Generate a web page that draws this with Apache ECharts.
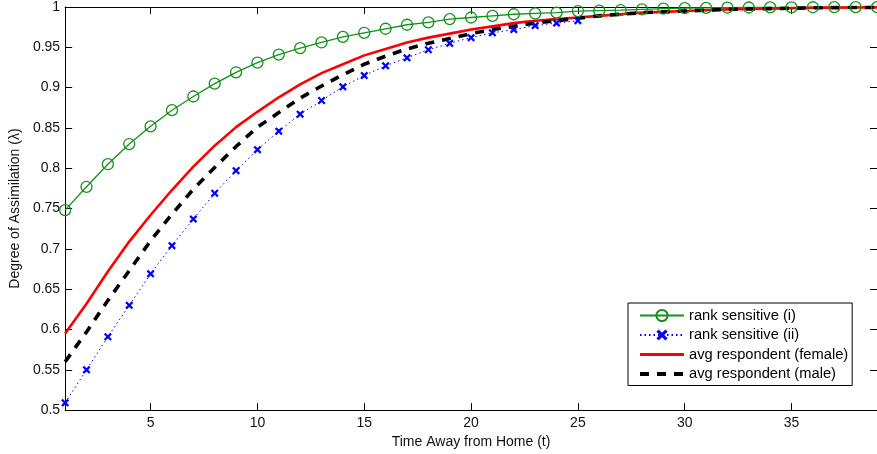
<!DOCTYPE html>
<html>
<head>
<meta charset="utf-8">
<script src="https://cdn.jsdelivr.net/npm/echarts@6/dist/echarts.min.js"></script>
<style>
html,body{margin:0;padding:0;background:#fff;}
#chart{width:877px;height:454px;}
</style>
</head>
<body>
<div id="chart"></div>
<script>
// ---- data ----
const tAll = [1,2,3,4,5,6,7,8,9,10,11,12,13,14,15,16,17,18,19,20,21,22,23,24,25,26,27,28,29,30,31,32,33,34,35,36,37,38,39];
const tShort = [1,2,3,4,5,6,7,8,9,10,11,12,13,14,15,16,17,18,19,20,21,22,23,24,25];
const rankSensitiveI = [0.748,0.777,0.805,0.830,0.852,0.872,0.889,0.905,0.919,0.931,0.941,0.949,0.956,0.963,0.968,0.973,0.978,0.981,0.985,0.987,0.989,0.991,0.992,0.993,0.995,0.9955,0.996,0.997,0.998,0.9985,0.999,0.9992,0.9994,0.9995,0.9996,0.9997,0.9998,0.9998,0.9999];
const rankSensitiveII = [0.509,0.550,0.591,0.630,0.669,0.704,0.737,0.769,0.797,0.823,0.846,0.867,0.884,0.901,0.915,0.927,0.937,0.947,0.955,0.962,0.968,0.972,0.977,0.980,0.983];
const avgFemale = [0.595,0.632,0.672,0.709,0.742,0.773,0.802,0.828,0.851,0.870,0.888,0.904,0.918,0.929,0.940,0.948,0.956,0.962,0.967,0.972,0.976,0.980,0.983,0.985,0.987,0.989,0.991,0.993,0.994,0.995,0.996,0.997,0.9975,0.998,0.9985,0.999,0.9992,0.9994,0.9995];
const avgMale = [0.560,0.597,0.636,0.673,0.710,0.743,0.774,0.801,0.827,0.851,0.869,0.887,0.902,0.916,0.929,0.939,0.948,0.955,0.961,0.967,0.972,0.976,0.980,0.983,0.986,0.989,0.991,0.993,0.994,0.995,0.996,0.997,0.9975,0.998,0.9985,0.999,0.9992,0.9994,0.9995];
const xTicks = [5,10,15,20,25,30,35];
const seriesNames = ['rank sensitive (i)','rank sensitive (ii)','avg respondent (female)','avg respondent (male)'];

const pair = (xs, ys) => ys.map((v, i) => [xs[i], v]);
const FONT = '"Liberation Sans", Arial, Helvetica, sans-serif';
const xMark = 'path://M0,2 L2,0 L5,3 L8,0 L10,2 L7,5 L10,8 L8,10 L5,7 L2,10 L0,8 L3,5 Z';
const CLEAR = 'rgba(0,0,0,0)';

const chart = echarts.init(document.getElementById('chart'), null, {renderer:'canvas'});
const axisCommonX = {
  type:'value', min:1, max:39,
  axisLine:{show:true, onZero:false, lineStyle:{color:'#000', width:1}},
  axisTick:{show:true, inside:true, length:7, customValues:xTicks, lineStyle:{color:'#000'}},
  splitLine:{show:false}
};
const axisCommonY = {
  type:'value', min:0.5, max:1, interval:0.05,
  axisLine:{show:true, onZero:false, lineStyle:{color:'#000', width:1}},
  axisTick:{show:true, inside:true, length:7, lineStyle:{color:'#000'}},
  splitLine:{show:false}
};
chart.setOption({
  animation:false,
  backgroundColor:'#fff',
  grid:{left:63, top:6, width:815, height:406, containLabel:false},
  xAxis:[
    Object.assign({}, axisCommonX, {
      position:'bottom',
      name:'Time Away from Home (t)', nameLocation:'middle', nameGap:22,
      nameTextStyle:{fontFamily:FONT, fontSize:14, color:'#111'},
      axisLabel:{show:true, customValues:xTicks, margin:6, fontFamily:FONT, fontSize:14, color:'#111'}
    }),
    Object.assign({}, axisCommonX, {position:'top', axisLabel:{show:false}})
  ],
  yAxis:[
    Object.assign({}, axisCommonY, {
      position:'left',
      name:'Degree of Assimilation (λ)', nameLocation:'middle', nameGap:35,
      nameTextStyle:{fontFamily:FONT, fontSize:14, color:'#111'},
      axisLabel:{show:true, margin:5, fontFamily:FONT, fontSize:14, color:'#111'}
    }),
    Object.assign({}, axisCommonY, {position:'right', axisLabel:{show:false}})
  ],
  legend:{
    orient:'vertical', left:628, top:303,
    data:[
      {name:seriesNames[0]},
      {name:seriesNames[1]},
      {name:seriesNames[2], itemStyle:{color:CLEAR, opacity:0}, lineStyle:{width:3}},
      {name:seriesNames[3], itemStyle:{color:CLEAR, opacity:0}, lineStyle:{width:4, type:[9,8]}}
    ],
    itemWidth:44, itemHeight:14, itemGap:4.5,
    padding:[5,4,4,10],
    borderColor:'#000', borderWidth:1, backgroundColor:'#fff',
    textStyle:{fontFamily:FONT, fontSize:14.7, color:'#000', lineHeight:14}
  },
  series:[
    {
      name:seriesNames[0], type:'line', data:pair(tAll, rankSensitiveI),
      symbol:'circle', symbolSize:11, showAllSymbol:true,
      itemStyle:{color:CLEAR, borderColor:'#13921a', borderWidth:1.3},
      lineStyle:{color:'#13921a', width:1.3},
      clip:false
    },
    {
      name:seriesNames[1], type:'line', data:pair(tShort, rankSensitiveII),
      symbol:xMark, symbolSize:8, showAllSymbol:true,
      itemStyle:{color:'#0000ff'},
      lineStyle:{color:'#0000ff', width:1, type:[1.5,3]}
    },
    {
      name:seriesNames[2], type:'line', data:pair(tAll, avgFemale),
      symbol:'none', itemStyle:{color:CLEAR},
      lineStyle:{color:'#ff0000', width:2.6}
    },
    {
      name:seriesNames[3], type:'line', data:pair(tAll, avgMale),
      symbol:'none', itemStyle:{color:CLEAR},
      lineStyle:{color:'#000000', width:3.6, type:[9,8]}
    }
  ]
});
</script>
</body>
</html>
